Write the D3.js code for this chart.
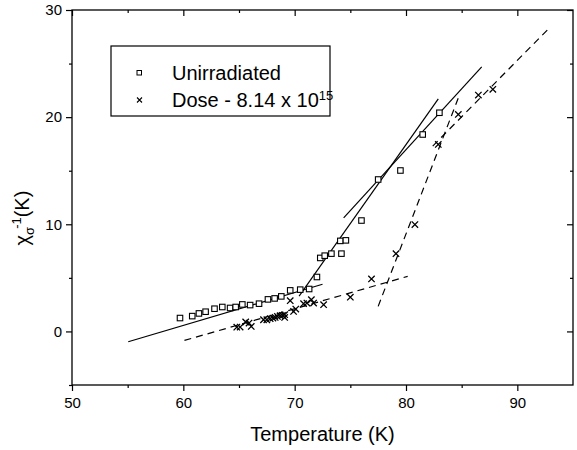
<!DOCTYPE html>
<html><head><meta charset="utf-8">
<script src="https://cdn.jsdelivr.net/npm/d3@7"></script>
<style>body{margin:0;background:#fff;} svg{display:block;font-family:Arial,"Liberation Sans",sans-serif;}</style>
</head><body>
<svg id="c" width="577" height="450"></svg>
<script>
// Unirradiated (squares)
const unirrT = [59.7,60.8,61.4,62.0,62.8,63.5,64.2,64.7,65.3,66.0,66.8,67.6,68.2,68.8,69.6,70.5,71.3,72.0,72.3,72.7,73.3,74.2,74.1,74.6,76.0,77.5,79.5,81.5,83.0];
const unirrY = [1.25,1.43,1.68,1.84,2.12,2.28,2.19,2.28,2.52,2.46,2.59,2.99,3.08,3.27,3.83,3.9,3.96,5.08,6.86,7.07,7.26,7.26,8.45,8.5,10.35,14.18,15.02,18.38,20.41];
// Dose 8.14e15 (crosses)
const doseT = [64.8,65.1,65.6,65.9,66.1,67.2,67.5,67.8,68.05,68.25,68.45,68.7,68.9,69.1,69.1,69.6,69.9,70.1,70.8,71.1,71.5,71.7,72.6,75.0,76.9,79.1,80.8,82.9,84.7,86.5,87.8];
const doseY = [0.4,0.41,0.88,0.78,0.47,1.09,1.09,1.19,1.25,1.31,1.4,1.47,1.5,1.56,1.31,2.87,1.87,2.09,2.59,2.65,2.96,2.65,2.5,3.2,4.9,7.26,9.97,17.45,20.25,22.06,22.6];
// Fit lines [T1,Y1,T2,Y2]
const solidFits = [[55.05,-0.96,72.5,4.4],[70.4,3.3,82.9,21.7],[74.4,10.6,86.8,24.7]];
const dashedFits = [[60.1,-0.84,80.15,5.14],[77.5,2.34,84.7,21.8],[82.4,17.3,92.9,28.35]];
const xTicks = [50,60,70,80,90];
const yTicks = [0,10,20,30];

const svg = d3.select("#c");
const L=72,R=573,T=10,B=385;
const x = d3.scaleLinear().domain([50,95]).range([L,R]);
const y = d3.scaleLinear().domain([-5,30]).range([B,T]);
const g = svg.append("g");

// frame
g.append("rect").attr("x",L).attr("y",T).attr("width",R-L).attr("height",B-T).attr("fill","none").attr("stroke","#000").attr("stroke-width",1.3);

// axes
const fs = 15;
const bx = svg.append("g").attr("transform",`translate(0,${B})`)
  .call(d3.axisBottom(x).tickValues(xTicks).tickSize(6).tickFormat(d3.format("d")));
const bxm = svg.append("g").attr("transform",`translate(0,${B})`)
  .call(d3.axisBottom(x).tickValues([55,65,75,85]).tickSize(3).tickFormat(""));
const ly = svg.append("g").attr("transform",`translate(${L},0)`)
  .call(d3.axisLeft(y).tickValues(yTicks).tickSize(6).tickFormat(d3.format("d")));
const lym = svg.append("g").attr("transform",`translate(${L},0)`)
  .call(d3.axisLeft(y).tickValues([-5,5,15,25]).tickSize(3).tickFormat(""));
const tx = svg.append("g").attr("transform",`translate(0,${T})`)
  .call(d3.axisBottom(x).tickValues(xTicks).tickSize(6).tickFormat(""));
const txm = svg.append("g").attr("transform",`translate(0,${T})`)
  .call(d3.axisBottom(x).tickValues([55,65,75,85]).tickSize(3).tickFormat(""));
const ry = svg.append("g").attr("transform",`translate(${R},0)`)
  .call(d3.axisLeft(y).tickValues(yTicks).tickSize(6).tickFormat(""));
const rym = svg.append("g").attr("transform",`translate(${R},0)`)
  .call(d3.axisLeft(y).tickValues([5,15,25]).tickSize(3).tickFormat(""));
svg.selectAll(".domain").remove();
svg.selectAll(".tick line").attr("stroke","#000").attr("stroke-width",1.2);
svg.selectAll(".tick text").attr("font-size",fs).attr("fill","#000").attr("font-family","Arial,'Liberation Sans',sans-serif");
bx.selectAll(".tick text").attr("dy","0.9em");
ly.selectAll(".tick text").attr("dx","-1px");

// axis titles
svg.append("text").attr("x",(x(50)+x(95))/2).attr("y",441).attr("text-anchor","middle")
  .attr("font-size",20).text("Temperature (K)");
const yl = svg.append("text").attr("transform","translate(29,218) rotate(-90)").attr("text-anchor","middle").attr("font-size",20);
yl.append("tspan").text("χ");
yl.append("tspan").attr("font-size",13).attr("dy",5).text("σ");
yl.append("tspan").attr("font-size",13).attr("dy",-13).attr("dx",-2).text("-1");
yl.append("tspan").attr("dy",8).text("(K)");

// fit lines
const plot = svg.append("g");
plot.selectAll(".sfit").data(solidFits).join("line")
  .attr("x1",d=>x(d[0])).attr("y1",d=>y(d[1])).attr("x2",d=>x(d[2])).attr("y2",d=>y(d[3]))
  .attr("stroke","#000").attr("stroke-width",1.2);
plot.selectAll(".dfit").data(dashedFits).join("line")
  .attr("x1",d=>x(d[0])).attr("y1",d=>y(d[1])).attr("x2",d=>x(d[2])).attr("y2",d=>y(d[3]))
  .attr("stroke","#000").attr("stroke-width",1.2).attr("stroke-dasharray","7,5");

// squares
const sq = 5.5;
plot.selectAll(".sq").data(d3.zip(unirrT,unirrY)).join("rect")
  .attr("x",d=>x(d[0])-sq/2).attr("y",d=>y(d[1])-sq/2).attr("width",sq).attr("height",sq)
  .attr("fill","#fff").attr("stroke","#000").attr("stroke-width",1.1);
// crosses
const cr = 3.2;
const crossPath = (cx,cy,r)=>`M${cx-r},${cy-r}L${cx+r},${cy+r}M${cx-r},${cy+r}L${cx+r},${cy-r}`;
plot.selectAll(".cr").data(d3.zip(doseT,doseY)).join("path")
  .attr("d",d=>crossPath(x(d[0]),y(d[1]),cr)).attr("stroke","#000").attr("stroke-width",1.3).attr("fill","none");

// legend
const lg = svg.append("g");
lg.append("rect").attr("x",111).attr("y",46).attr("width",219).attr("height",70).attr("fill","#fff").attr("stroke","#000").attr("stroke-width",1.2);
lg.append("rect").attr("x",137).attr("y",70.5).attr("width",4.5).attr("height",4.5).attr("fill","none").attr("stroke","#000").attr("stroke-width",1);
lg.append("path").attr("d",crossPath(139.5,100,2.5)).attr("stroke","#000").attr("stroke-width",1.1);
lg.append("text").attr("x",172).attr("y",80).attr("font-size",20).text("Unirradiated");
const t2 = lg.append("text").attr("x",172).attr("y",107).attr("font-size",20);
t2.append("tspan").text("Dose - 8.14 x 10");
t2.append("tspan").attr("font-size",13).attr("dy",-7).text("15");
</script>
</body></html>
